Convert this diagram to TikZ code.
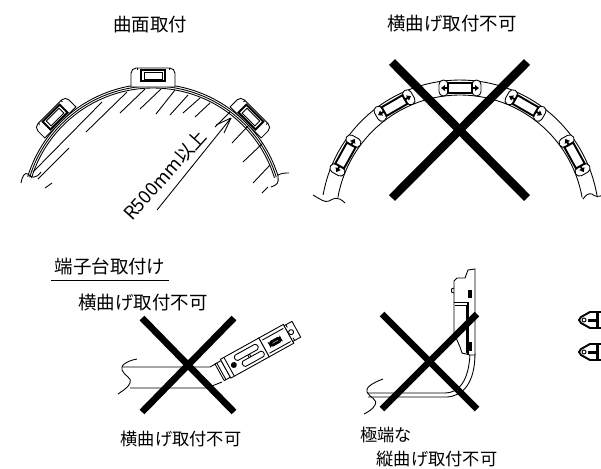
\documentclass[tikz,border=0pt]{standalone}
\usepackage{fontspec}
\setmainfont{Noto Sans CJK JP}
\usepackage{xcolor}
\usepackage{tikz}
\usetikzlibrary{calc}

\begin{document}
\begin{tikzpicture}[x=0.02cm,y=-0.02cm,line width=0.5pt]

        \tikzstyle{label}    = [inner sep=0pt, font=\fontsize{10.5pt}{12pt}\selectfont]
        \tikzstyle{labelsm}  = [inner sep=0pt, font=\fontsize{9.8pt}{12pt}\selectfont]
        \tikzstyle{cross}    = [line width=4.8pt]
        \tikzstyle{crosssm}  = [line width=3.8pt]
        \tikzstyle{hatch}    = [line width=0.5pt]
        \tikzstyle{heavy}    = [line width=1.1pt]

        \useasboundingbox (0,0) rectangle (601,468);

        \node [label](top1) at (150,25) {曲面取付};
        \node [label](top2) at (452,24) {横曲げ取付不可};
        \node [label](sub1) at (110,266) {端子台取付け};
        \node [label](sub2) at (143,302) {横曲げ取付不可};
        \node [labelsm](low1) at (181,439) {横曲げ取付不可};
        \node [labelsm](low2) at (386,435) {極端な};
        \node [labelsm](low3) at (437,459) {縦曲げ取付不可};
        \draw (51,280) -- (169,280);

        % curved mounting
        \foreach \x/\y/\u/\v in {45/188/52/183, 38/179/69/148, 33/172/102/102, 86/132/127/92,
                120/113/145/89, 140/109/161/89, 156/114/175/90, 170/115/188/95, 183/113/200/98,
                195/117/210/103, 215/127/230/112, 232/143/248/126, 243/162/263/143, 253/183/270/165,
                262/193/268/187}
        {
                \draw [hatch] (\x,\y) -- (\u,\v);
        }
        \foreach \r in {131,129,127}
        {
                \draw [shift={(153,215)},domain=-163:-17,samples=60] plot (\x:\r);
        }
        \draw (21,183) .. controls (22,176) and (25,172) .. (28,174) .. controls (31,178) and (36,179) .. (41,172);
        \draw (278,175) .. controls (282,173) and (285,173) .. (289,173);
        \draw (278,177) .. controls (279,183) and (277,185) .. (271,187);

        \foreach \a/\b/\t in {45/-131/-146, 0/-128/-147, -45/-131/-146}
        {
                \begin{scope}[shift={(153,215)},rotate=\a]
                        \draw [fill=white] (-22,\b) [rounded corners=3pt] -- (-22,\t) -- (22,\t) [sharp corners] -- (22,\b) -- cycle;
                        \draw [heavy,fill=white] (-12,\t+2) rectangle (12,\t+13);
                        \draw [fill=white] (-9,\t+4) rectangle (9,\t+11);
                        \draw (-16,\t) -- (-16,\t+2) (16,\t) -- (16,\t+2);
                \end{scope}
        }

        \coordinate (dimA) at (157,210);
        \coordinate (dimB) at (231,118);
        \draw (dimA) -- (dimB);
        \draw (dimB) -- (216,125) (dimB) -- (224,133);
        \node [label, rotate=48](rad) at (165,175) {R500mm以上};

        % side bending, not allowed
        \draw [shift={(460,219)},domain=-170:-9,samples=60] plot (\x:139);
        \draw [shift={(460,219)},domain=-170:-10,samples=60] plot (\x:124);
        \draw (313,195) .. controls (320,199) and (325,203) .. (329,201) .. controls (333,199) and (337,195) .. (345,203);
        \draw (583,199) .. controls (586,195) and (588,193) .. (592,194) .. controls (595,197) and (599,197) .. (603,195);

        \foreach \a in {61,30,0,-30,-61}
        {
                \begin{scope}[shift={(460,219)},rotate=\a]
                        \draw [fill=white,rounded corners=2.5pt] (-21,-139) rectangle (-12,-123);
                        \draw [fill=white,rounded corners=2.5pt] (12,-139) rectangle (21,-123);
                        \draw [heavy,fill=white] (-12,-136) rectangle (12,-126);
                        \draw [heavy] (-12,-131) -- (-17,-131) (12,-131) -- (17,-131);
                        \fill (-15,-134) -- (-19,-131) -- (-15,-128) -- cycle;
                        \fill (15,-134) -- (19,-131) -- (15,-128) -- cycle;
                \end{scope}
        }

        % terminal block, side bending
        \draw (137,359) .. controls (126,361) and (120,366) .. (122,370) .. controls (124,376) and (133,378) .. (130,383) .. controls (128,388) and (122,391) .. (118,394);
        \draw (122,367) -- (210,367) -- (217,363);
        \draw (130,388) -- (207,388) -- (222,382);

        \begin{scope}[shift={(215,364)},rotate=29]
                \draw [fill=white] (0,0) rectangle (7,19);
                \draw [fill=white] (7,-1.5) rectangle (51,20);
                \draw [fill=white] (51,-1.5) rectangle (79,20);
                \draw [fill=white] (79,0) rectangle (88,18);
                \draw (2,0) -- (2,19);
                \draw (11,-1.5) -- (11,20);
                \draw [rounded corners=1pt] (20,2) rectangle (46,8);
                \draw [rounded corners=1pt] (24,11) rectangle (48,17);
                \draw (33,8) -- (33,11) (35,8) -- (35,11);
                \fill (16,10) circle (3);
                \draw (53,2) -- (77,2) (53,17) -- (77,17);
                \draw [line width=1.6pt,fill=white,rounded corners=1pt] (58,8) rectangle (69,11.5);
                \draw (82,9) circle (2.5);
                \draw (81,0) -- (81,3) (81,15) -- (81,18);
        \end{scope}

        % terminal block, up bending
        \draw (383,379) .. controls (372,383) and (365,388) .. (367,392) .. controls (370,398) and (378,399) .. (375,405) .. controls (373,409) and (368,412) .. (364,414);
        \draw (367,393) -- (445,393) .. controls (458,393) and (469,382) .. (470,353);
        \draw (368,397) -- (447,397) .. controls (463,396) and (475,383) .. (475,353);

        \draw [fill=white] (475,355) -- (475,269) -- (468,270) -- (465,278) -- (457,278) -- (454,281)
                -- (454,333) -- (460,347) -- (462,353) -- (470,355) -- cycle;
        \draw (454,288) -- (451.5,289) -- (451.5,292) -- (454,293);
        \draw (454,302) -- (468,302);
        \draw (455,305) -- (466,305) -- (466,353);
        \draw [heavy] (468,302) -- (468,354);
        \fill (468,290) rectangle (472,298);
        \fill (468,342) rectangle (472,351);

        % small parts at the border
        \foreach \y in {320,352}
        {
                \draw [heavy] (601,\y-8) -- (590,\y-8) -- (581,\y-3) -- (579,\y) -- (581,\y+3) -- (590,\y+8) -- (601,\y+8);
                \draw (584,\y) circle (2);
                \fill (588,\y-1.5) rectangle (597,\y+1.5);
                \fill (595.5,\y-8) rectangle (599,\y+8);
        }

        % crosses
        \draw [cross] (392,62) -- (527,198);
        \draw [cross] (527,62) -- (392,198);
        \draw [crosssm] (142,318) -- (234,412);
        \draw [crosssm] (234,318) -- (142,412);
        \draw [crosssm] (382,314) -- (477,409);
        \draw [crosssm] (477,314) -- (382,409);

\end{tikzpicture}
\end{document}
